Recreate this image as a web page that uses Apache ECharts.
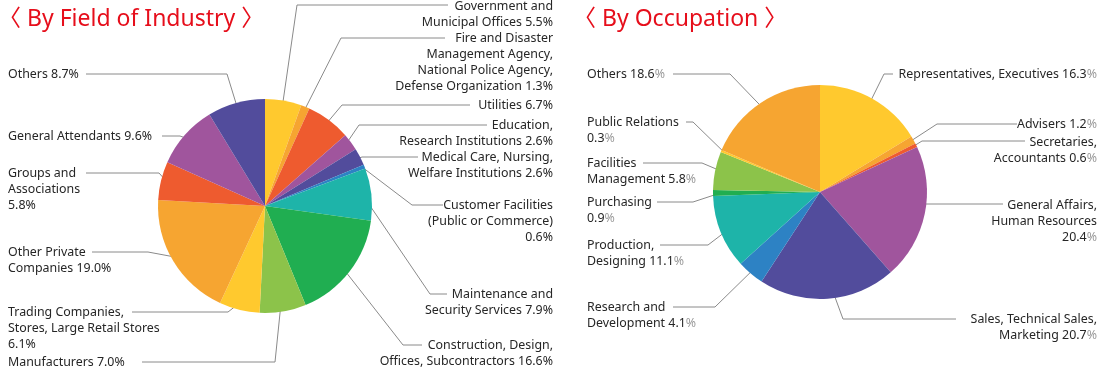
<!DOCTYPE html>
<html><head><meta charset="utf-8">
<script src="https://cdn.jsdelivr.net/npm/echarts@6/dist/echarts.min.js"></script>
<style>html,body{margin:0;padding:0;background:#fff}#c{width:1100px;height:370px}</style>
</head><body><div id="c"></div>
<script>
// ---- data ----
const industryTitle = '〈 By Field of Industry 〉';
const industryNames = ['Government and\nMunicipal Offices', 'Fire and Disaster\nManagement Agency,\nNational Police Agency,\nDefense Organization', 'Utilities', 'Education,\nResearch Institutions', 'Medical Care, Nursing,\nWelfare Institutions', 'Customer Facilities\n(Public or Commerce)\n', 'Maintenance and\nSecurity Services', 'Construction, Design,\nOffices, Subcontractors', 'Manufacturers', 'Trading Companies,\nStores, Large Retail Stores\n', 'Other Private\nCompanies', 'Groups and\nAssociations\n', 'General Attendants', 'Others'];
const industryValues = [5.5, 1.3, 6.7, 2.6, 2.6, 0.6, 7.9, 16.6, 7.0, 6.1, 19.0, 5.8, 9.6, 8.7];

const occupationTitle = '〈 By Occupation 〉';
const occupationNames = ['Representatives, Executives', 'Advisers', 'Secretaries,\nAccountants', 'General Affairs,\nHuman Resources\n', 'Sales, Technical Sales,\nMarketing', 'Research and\nDevelopment', 'Production,\nDesigning', 'Purchasing\n', 'Facilities\nManagement', 'Public Relations\n', 'Others'];
const occupationValues = [16.3, 1.2, 0.6, 20.4, 20.7, 4.1, 11.1, 0.9, 5.8, 0.3, 18.6];

// ---- styles / layout ----
const palette = ['#FFC92E', '#F6A531', '#EE5B2F', '#A0559D', '#524C9C', '#2D82C4', '#1EB4A9', '#20AE51', '#8CC34A'];
const leftCenter = [265, 206], rightCenter = [820, 192], pieR = 107;
// [labelX, labelTop, align, elbowX, elbowY, lineEndX, startRatio]
const industryLabelPos = [
  [553, -2, 'right', 297, 5, 448, 0.93],
  [553, 30, 'right', 341, 38, 445, 0.92],
  [553, 97, 'right', 342, 105, 470, 0.92],
  [553, 117, 'right', 359, 125, 487, 0.92],
  [553, 149, 'right', 362, 157, 418, 0.94],
  [553, 197, 'right', 412, 205, 443, 0.98],
  [553, 286, 'right', 430, 294, 447, 0.92],
  [553, 337, 'right', 403, 345, 422, 0.88],
  [8, 354, 'left', 275, 362, 142, 0.9],
  [8, 304, 'left', 228, 312, 132, 0.92],
  [8, 244, 'left', 148, 252, 92, 0.94],
  [8, 165, 'left', 159, 173, 86, 0.94],
  [8, 128, 'left', 180, 136, 162, 0.94],
  [8, 66, 'left', 227, 74, 86, 0.93]
];
const occupationLabelPos = [
  [1097, 66, 'right', 884, 74, 893, 0.9],
  [1097, 116, 'right', 937, 124, 1017, 0.94],
  [1097, 134, 'right', 922, 141, 1025, 0.95],
  [1097, 197, 'right', 918, 204, 1003, 0.93],
  [1097, 311, 'right', 843, 319, 956, 0.75],
  [587, 299, 'left', 715, 307, 673, 0.92],
  [587, 237, 'left', 708, 245, 660, 0.92],
  [587, 194, 'left', 693, 202, 657, 0.93],
  [587, 155, 'left', 702, 163, 643, 0.91],
  [587, 114, 'left', 693, 122, 686, 0.97],
  [587, 66, 'left', 730, 74, 673, 0.88]
];

function fmtVal(name, v) {
  return (name.endsWith('\n') ? name : name + ' ') + v.toFixed(1);
}
function makeLayout(pos, c) {
  return function (p) {
    const L = pos[p.dataIndex];
    const p0 = p.labelLinePoints ? p.labelLinePoints[0] : c;
    const k = L[6];
    const start = [c[0] + (p0[0] - c[0]) * k, c[1] + (p0[1] - c[1]) * k];
    return {
      x: L[0], y: L[1], align: L[2], verticalAlign: 'top',
      labelLinePoints: [start, [L[3], L[4]], [L[5], L[4]]]
    };
  };
}
function makeData(names, values) {
  return names.map((n, i) => ({ name: n, value: values[i], itemStyle: { color: palette[i % palette.length] } }));
}
const labelFont = 'Noto Sans';
const labelSize = 12.4;
const baseLabel = {
  position: 'outside', color: '#262626', fontSize: labelSize, lineHeight: 16, fontFamily: labelFont
};
const titleStyle = { color: '#E60E1B', fontSize: 23, fontWeight: 'normal', fontFamily: "'Noto Sans', 'Noto Sans CJK JP'" };

const chart = echarts.init(document.getElementById('c'), null, { renderer: 'canvas' });
chart.setOption({
  animation: false,
  title: [
    { text: industryTitle, left: -7, top: 3, textStyle: titleStyle },
    { text: occupationTitle, left: 568, top: 3, textStyle: titleStyle }
  ],
  series: [
    {
      type: 'pie', center: leftCenter, radius: pieR, startAngle: 90, clockwise: true,
      avoidLabelOverlap: false,
      itemStyle: { borderWidth: 0 },
      label: Object.assign({}, baseLabel, {
        formatter: p => fmtVal(p.name, p.value) + '%'
      }),
      labelLine: { show: true, length: 10, length2: 10, lineStyle: { color: '#8a8a8a', width: 1 } },
      labelLayout: makeLayout(industryLabelPos, leftCenter),
      emphasis: { disabled: true },
      data: makeData(industryNames, industryValues)
    },
    {
      type: 'pie', center: rightCenter, radius: pieR, startAngle: 90, clockwise: true,
      avoidLabelOverlap: false,
      itemStyle: { borderWidth: 0 },
      label: Object.assign({}, baseLabel, {
        formatter: p => '{t|' + fmtVal(p.name, p.value) + '}{p|%}',
        rich: {
          t: { color: '#262626', fontSize: labelSize, lineHeight: 16, fontFamily: labelFont },
          p: { color: '#9a9a9a', fontSize: labelSize, lineHeight: 16, fontFamily: labelFont }
        }
      }),
      labelLine: { show: true, length: 10, length2: 10, lineStyle: { color: '#8a8a8a', width: 1 } },
      labelLayout: makeLayout(occupationLabelPos, rightCenter),
      emphasis: { disabled: true },
      data: makeData(occupationNames, occupationValues)
    }
  ]
});
</script>
</body></html>
